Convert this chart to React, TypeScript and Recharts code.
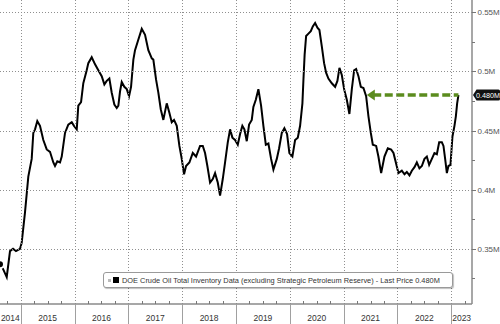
import React from 'react';
import { LineChart, Line, XAxis, YAxis, ReferenceLine, ReferenceDot, Legend } from 'recharts';

// decimal years, weekly-ish samples
const dates = [
  2014.615, 2014.671, 2014.740, 2014.801, 2014.857, 2014.912, 2014.987, 2015.018, 2015.080, 2015.141,
  2015.204, 2015.234, 2015.266, 2015.308, 2015.358, 2015.420, 2015.483, 2015.544, 2015.606, 2015.637,
  2015.680, 2015.730, 2015.762, 2015.823, 2015.884, 2015.948, 2015.990, 2016.041, 2016.070, 2016.121,
  2016.163, 2016.226, 2016.256, 2016.319, 2016.381, 2016.442, 2016.505, 2016.554, 2016.598, 2016.647,
  2016.691, 2016.740, 2016.784, 2016.814, 2016.845, 2016.877, 2016.925, 2016.970, 2017.013, 2017.050,
  2017.093, 2017.124, 2017.186, 2017.249, 2017.310, 2017.371, 2017.435, 2017.464, 2017.515, 2017.557,
  2017.602, 2017.650, 2017.713, 2017.762, 2017.806, 2017.849, 2017.899, 2017.948, 2017.992, 2018.035,
  2018.072, 2018.134, 2018.197, 2018.258, 2018.332, 2018.383, 2018.425, 2018.468, 2018.518, 2018.568,
  2018.611, 2018.661, 2018.704, 2018.754, 2018.797, 2018.847, 2018.890, 2018.933, 2018.983, 2019.033,
  2019.076, 2019.118, 2019.156, 2019.200, 2019.243, 2019.293, 2019.323, 2019.368, 2019.416, 2019.466,
  2019.509, 2019.554, 2019.602, 2019.652, 2019.695, 2019.758, 2019.801, 2019.851, 2019.899, 2019.949,
  2019.992, 2020.048, 2020.098, 2020.148, 2020.191, 2020.234, 2020.253, 2020.275, 2020.303, 2020.346,
  2020.390, 2020.427, 2020.470, 2020.513, 2020.550, 2020.595, 2020.637, 2020.674, 2020.717, 2020.780,
  2020.842, 2020.884, 2020.922, 2020.966, 2021.009, 2021.059, 2021.107, 2021.152, 2021.195, 2021.232,
  2021.275, 2021.319, 2021.368, 2021.418, 2021.461, 2021.505, 2021.542, 2021.604, 2021.646, 2021.697,
  2021.758, 2021.821, 2021.883, 2021.926, 2021.970, 2022.018, 2022.081, 2022.130, 2022.174, 2022.223,
  2022.267, 2022.316, 2022.360, 2022.408, 2022.453, 2022.502, 2022.546, 2022.589, 2022.639, 2022.687,
  2022.732, 2022.775, 2022.825, 2022.855, 2022.886, 2022.918, 2022.947, 2022.985, 2023.022, 2023.059,
  2023.085, 2023.109, 2023.133,
];

// inventory, in millions as shown on the axis (0.480M)
const inventory = [
  0.337, 0.333, 0.326, 0.348, 0.350, 0.348, 0.350, 0.355, 0.381, 0.411,
  0.426, 0.448, 0.451, 0.458, 0.454, 0.442, 0.434, 0.432, 0.423, 0.420,
  0.424, 0.423, 0.428, 0.448, 0.455, 0.457, 0.454, 0.451, 0.471, 0.474,
  0.490, 0.501, 0.507, 0.512, 0.506, 0.501, 0.496, 0.489, 0.492, 0.494,
  0.482, 0.472, 0.469, 0.471, 0.483, 0.491, 0.487, 0.485, 0.479, 0.487,
  0.510, 0.518, 0.527, 0.536, 0.531, 0.518, 0.511, 0.510, 0.493, 0.482,
  0.468, 0.459, 0.473, 0.465, 0.457, 0.459, 0.454, 0.437, 0.426, 0.413,
  0.420, 0.423, 0.431, 0.428, 0.437, 0.437, 0.431, 0.420, 0.406, 0.409,
  0.414, 0.406, 0.395, 0.409, 0.423, 0.440, 0.451, 0.444, 0.442, 0.438,
  0.447, 0.454, 0.451, 0.441, 0.455, 0.459, 0.470, 0.476, 0.485, 0.471,
  0.454, 0.438, 0.439, 0.426, 0.417, 0.426, 0.435, 0.448, 0.452, 0.447,
  0.431, 0.428, 0.442, 0.444, 0.454, 0.473, 0.493, 0.514, 0.530, 0.532,
  0.534, 0.538, 0.541, 0.537, 0.535, 0.521, 0.507, 0.499, 0.494, 0.490,
  0.487, 0.492, 0.503, 0.497, 0.485, 0.476, 0.464, 0.485, 0.501, 0.502,
  0.496, 0.487, 0.486, 0.479, 0.462, 0.448, 0.438, 0.437, 0.428, 0.414,
  0.428, 0.435, 0.434, 0.431, 0.423, 0.414, 0.416, 0.413, 0.415, 0.412,
  0.416, 0.419, 0.423, 0.418, 0.420, 0.426, 0.428, 0.421, 0.426, 0.431,
  0.430, 0.440, 0.440, 0.437, 0.426, 0.414, 0.420, 0.421, 0.445, 0.454,
  0.462, 0.473, 0.480,
];

const yearLabels = ['2014', '2015', '2016', '2017', '2018', '2019', '2020', '2021', '2022', '2023'];
const majorTicks = [0.35, 0.4, 0.45, 0.5, 0.55];
const minorTicks = [0.325, 0.375, 0.425, 0.475, 0.525];

const SERIES_NAME = 'DOE Crude Oil Total Inventory Data (excluding Strategic Petroleum Reserve)';
const ARROW_FROM = 2021.43;

const X_DOMAIN: [number, number] = [2014.615, 2023.385];
const Y_DOMAIN: [number, number] = [0.3033, 0.5604];

const FONT = "'Liberation Sans', Arial, sans-serif";
const GREEN = '#5b8c1e';
const GRID = '#8f8f8f';

const data = dates.map((t, i) => ({ t, v: inventory[i] }));
const last = inventory[inventory.length - 1];

// label for each year sits in the middle of its visible span
const labelPos = yearLabels.map((y) => {
  const yr = Number(y);
  return (Math.max(X_DOMAIN[0], yr) + Math.min(X_DOMAIN[1], yr + 1)) / 2;
});

const quarterTicks: number[] = [];
for (let q = Math.ceil(X_DOMAIN[0] * 4) / 4; q <= X_DOMAIN[1]; q += 0.25) quarterTicks.push(q);
const xTicks = Array.from(new Set([...quarterTicks, ...labelPos])).sort((a, b) => a - b);

const fmt = (v: number) => `${Number(v.toFixed(3))}M`;
const px = (v: number) => Math.round(v) + 0.5;

// bottom axis: quarter ticks, year separators + dotted year gridlines, year labels
const XTick = (props: any) => {
  const { x, y, payload } = props;
  const val = payload.value;
  const isQuarter = quarterTicks.some((q) => Math.abs(q - val) < 1e-6);
  const isYear = Math.abs(val - Math.round(val)) < 1e-6;
  const li = labelPos.findIndex((p) => Math.abs(p - val) < 1e-6);
  const gx = px(x);
  return (
    <g>
      {isQuarter && !isYear && <line x1={gx} x2={gx} y1={y} y2={y - 3} stroke="#777" strokeWidth={1} />}
      {isYear && (
        <g shapeRendering="crispEdges">
          <line x1={gx} x2={gx} y1={0} y2={y} stroke={GRID} strokeWidth={1} strokeDasharray="1 2" />
          <line x1={gx} x2={gx} y1={y} y2={y + 22} stroke="#a0a0a0" strokeWidth={1} />
        </g>
      )}
      {li >= 0 && (
        <text x={x} y={y + 17} textAnchor="middle" fontSize={8.5} fill="#333" fontFamily={FONT}>
          {yearLabels[li]}
        </text>
      )}
    </g>
  );
};

// right axis: major/minor ticks, dotted gridlines at majors
const YTick = (props: any) => {
  const { x, y, payload } = props;
  const major = majorTicks.some((m) => Math.abs(m - payload.value) < 1e-6);
  const gy = px(y);
  return (
    <g>
      {major && (
        <line x1={0} x2={x} y1={gy} y2={gy} stroke={GRID} strokeWidth={1} strokeDasharray="1 2" shapeRendering="crispEdges" />
      )}
      <line x1={x} x2={x + (major ? 4 : 3)} y1={gy} y2={gy} stroke="#777" strokeWidth={1} />
      {major && (
        <text x={x + 5.5} y={y + 3} fontSize={8} fill="#555" fontFamily={FONT}>
          {fmt(payload.value)}
        </text>
      )}
    </g>
  );
};

const ArrowHead = (props: any) => {
  const { cx, cy } = props;
  return <polygon points={`${cx},${cy} ${cx + 8},${cy - 5.5} ${cx + 8},${cy + 5.5}`} fill={GREEN} />;
};

const PriceTag = (props: any) => {
  const { cx, cy } = props;
  return (
    <g>
      <path
        d={`M${cx + 1},${cy} L${cx + 4.5},${cy - 5.5} L${cx + 26.5},${cy - 5.5} Q${cx + 28},${cy - 5.5} ${cx + 28},${cy - 4} L${cx + 28},${cy + 4} Q${cx + 28},${cy + 5.5} ${cx + 26.5},${cy + 5.5} L${cx + 4.5},${cy + 5.5} Z`}
        fill="#111"
      />
      <text x={cx + 16} y={cy + 2.6} textAnchor="middle" fontSize={7.2} fill="#fff" fontFamily={FONT}>
        {last.toFixed(3)}M
      </text>
    </g>
  );
};

const renderLegend = () => (
  <div
    style={{
      border: '1px solid #9a9a9a',
      borderRadius: 3,
      background: '#fff',
      boxShadow: '1px 1px 1px rgba(0,0,0,0.25)',
      height: 16,
      display: 'flex',
      alignItems: 'center',
      paddingLeft: 4,
      fontFamily: FONT,
      fontSize: 7.4,
      color: '#333',
      whiteSpace: 'nowrap',
      boxSizing: 'border-box',
      overflow: 'hidden',
    }}
  >
    <span style={{ flex: '0 0 auto', width: 3, height: 3, background: '#bbb', marginRight: 2, display: 'inline-block' }} />
    <span style={{ flex: '0 0 auto', width: 6, height: 6, background: '#000', marginRight: 3, display: 'inline-block' }} />
    <span>
      {SERIES_NAME} - Last Price {last.toFixed(3)}M
    </span>
  </div>
);

export default function App() {
  return (
    <div style={{ position: 'absolute', left: 0, top: 0, width: 500, height: 324, background: '#fff' }}>
      <LineChart width={500} height={324} data={data} margin={{ top: 0, right: 0, bottom: 0, left: 0 }}>
        <XAxis
          dataKey="t"
          type="number"
          domain={X_DOMAIN}
          allowDataOverflow
          ticks={xTicks}
          interval={0}
          height={20}
          tickSize={0}
          tickMargin={0}
          tickLine={false}
          tick={<XTick />}
          axisLine={{ stroke: '#8a8a8a', strokeWidth: 1.5 }}
        />
        <YAxis
          orientation="right"
          type="number"
          domain={Y_DOMAIN}
          allowDataOverflow
          ticks={[...minorTicks, ...majorTicks].sort((a, b) => a - b)}
          interval={0}
          width={28}
          tickSize={0}
          tickMargin={0}
          tickLine={false}
          tick={<YTick />}
          axisLine={{ stroke: '#8a8a8a', strokeWidth: 1.5 }}
        />
        <Line
          type="linear"
          dataKey="v"
          name={SERIES_NAME}
          stroke="#000"
          strokeWidth={2}
          dot={false}
          isAnimationActive={false}
        />
        <ReferenceLine
          segment={[
            { x: ARROW_FROM + 0.12, y: last },
            { x: dates[dates.length - 1], y: last },
          ]}
          stroke={GREEN}
          strokeWidth={3.5}
          strokeDasharray="8 3.5"
        />
        <ReferenceDot x={ARROW_FROM} y={last} shape={<ArrowHead />} ifOverflow="visible" />
        <ReferenceDot x={X_DOMAIN[1]} y={last} shape={<PriceTag />} ifOverflow="visible" />
        <Legend
          layout="horizontal"
          verticalAlign="middle"
          align="center"
          content={renderLegend}
          wrapperStyle={{ position: 'absolute', left: 103, top: 272, width: 350, height: 16 }}
        />
      </LineChart>
    </div>
  );
}
